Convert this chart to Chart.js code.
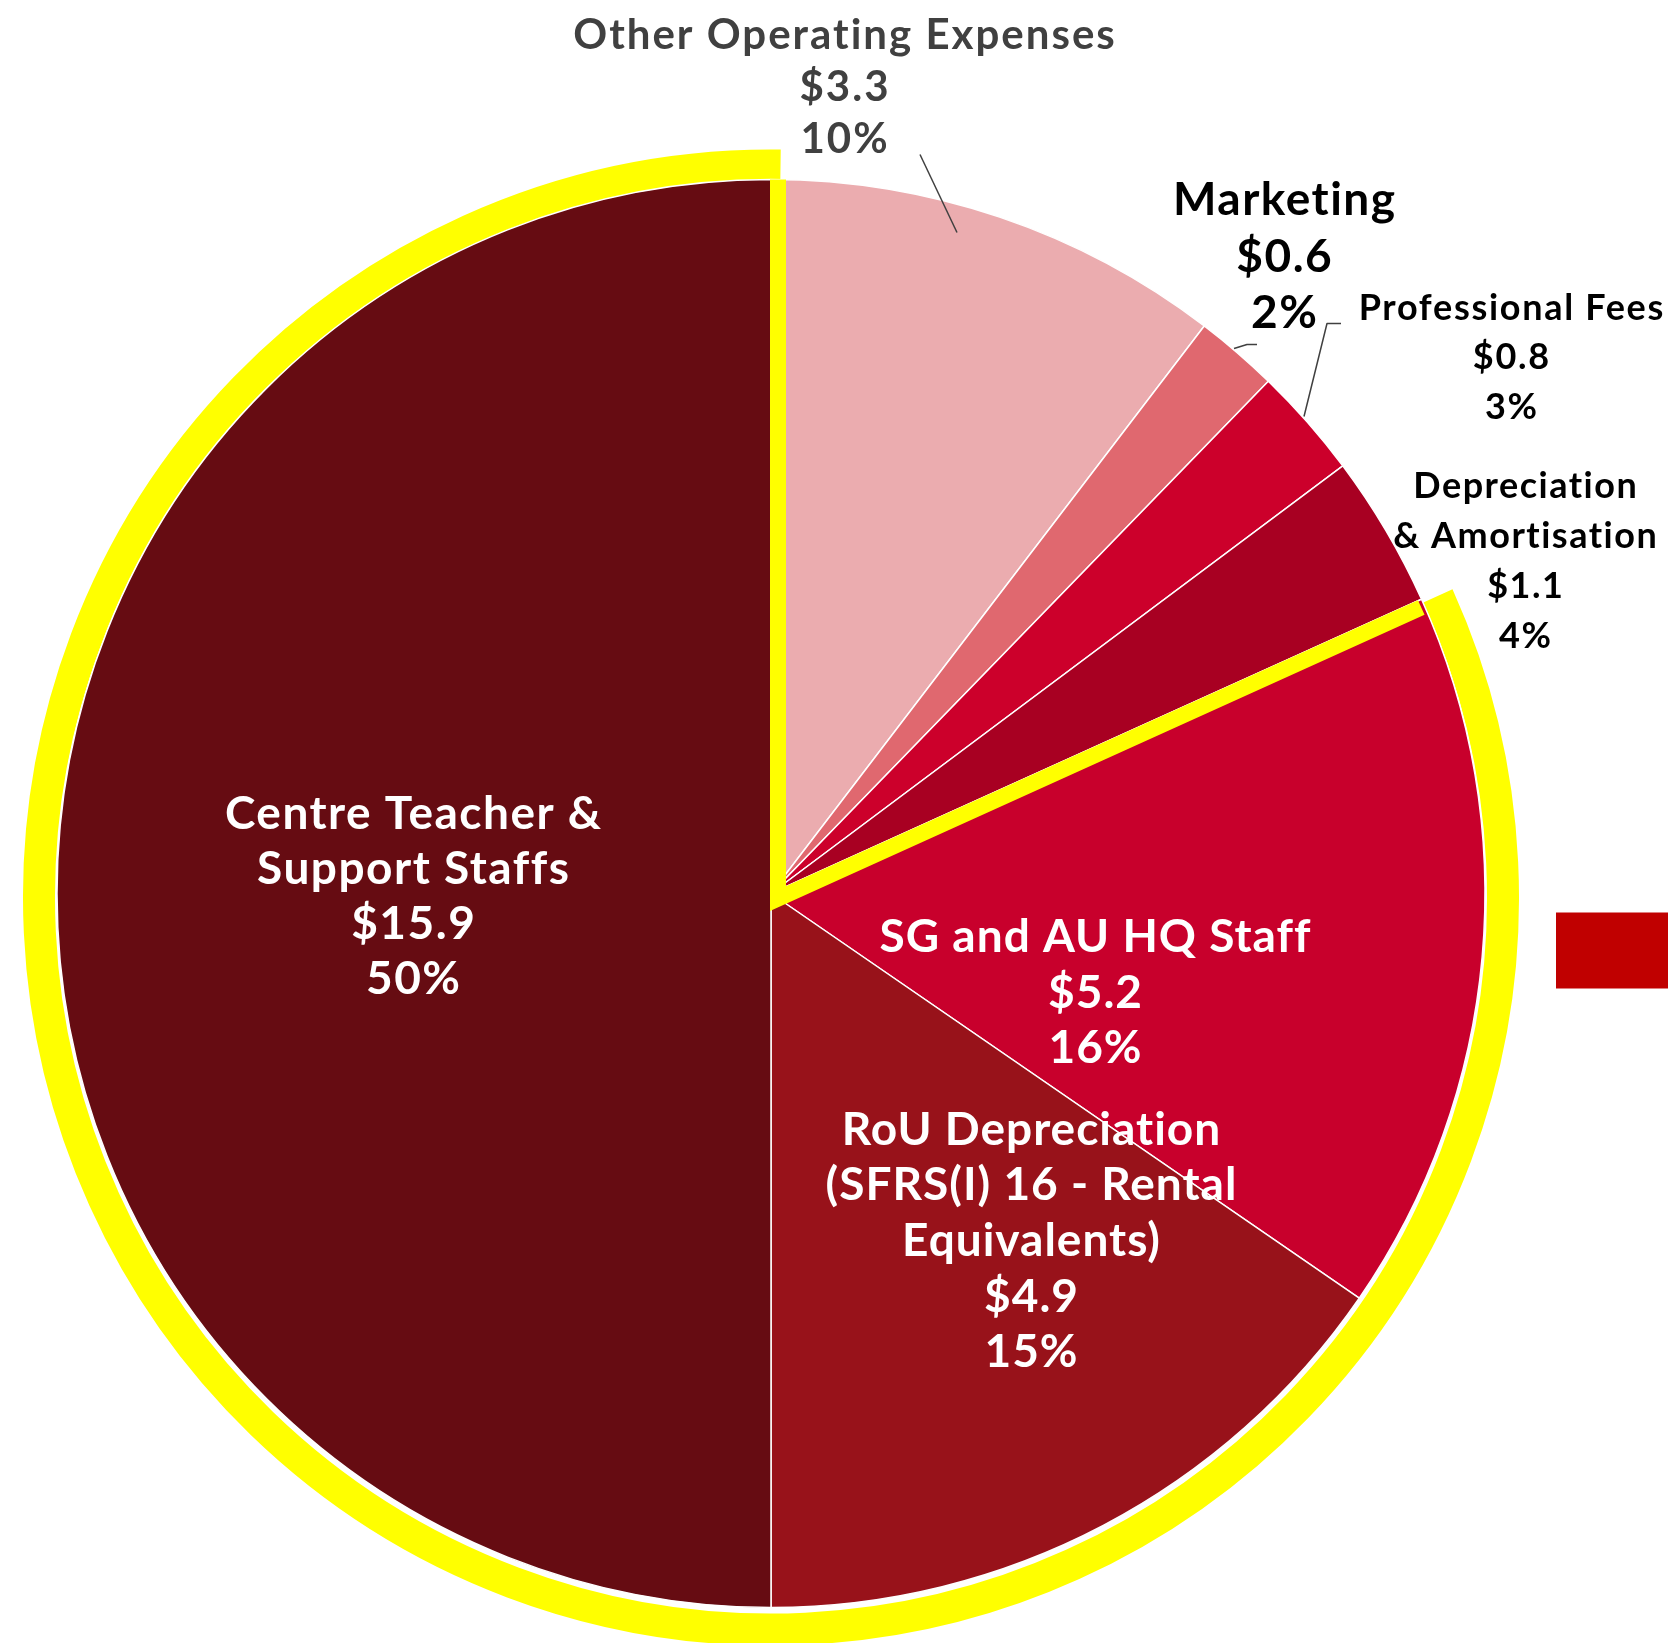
<!DOCTYPE html>
<html>
<head>
<meta charset="utf-8">
<script src="https://cdn.jsdelivr.net/npm/chart.js@4.4.1/dist/chart.umd.min.js"></script>
<style>
  html, body { margin: 0; padding: 0; background: #fff; }
  #wrap { width: 1668px; height: 1643px; }
</style>
</head>
<body>
<div id="wrap"><canvas id="costChart" width="1668" height="1643"></canvas></div>
<script>
// DATA
const categories = [
  ['Other Operating Expenses'],
  ['Marketing'],
  ['Professional Fees'],
  ['Depreciation', '& Amortisation'],
  ['SG and AU HQ Staff'],
  ['RoU Depreciation', '(SFRS(I) 16 - Rental', 'Equivalents)'],
  ['Centre Teacher &', 'Support Staffs']
];
const amounts = [3.3, 0.6, 0.8, 1.1, 5.2, 4.9, 15.9];
const pctLabels = ['10%', '2%', '3%', '4%', '16%', '15%', '50%'];
const sliceColors = ['#EBACAF', '#E0686F', '#CC002B', '#A80022', '#C8002C', '#98121A', '#660C12'];

// label placement: offset from pie centre, font size, letter spacing, line height, colour
const labelLayout = [
  { dx: 73, dy: -808, size: 42, ls: 2, lh: 52, color: '#404040' },
  { dx: 513, dy: -638, size: 46, ls: 1.5, lh: 56.5, color: '#000000' },
  { dx: 740, dy: -537, size: 36, ls: 1.7, lh: 49.5, color: '#000000' },
  { dx: 754, dy: -333, size: 36, ls: 1.5, lh: 50, color: '#000000' },
  { dx: 324, dy: 98, size: 46, ls: 1, lh: 55.5, color: '#FFFFFF' },
  { dx: 260, dy: 346, size: 46, ls: 1, lh: 55.7, color: '#FFFFFF' },
  { dx: -358, dy: 2, size: 46, ls: 1.5, lh: 55, color: '#FFFFFF' }
];

// leader lines (offsets from centre)
const leaders = [
  [[149, -739], [186, -661]],
  [[463, -545], [476, -549], [486, -549]],
  [[533, -477], [556, -570], [570, -570]]
];

const FONT = 'Lato, "DejaVu Sans", sans-serif';

var decorations = {
  id: 'decorations',
  beforeDatasetsDraw(chart) {
    // yellow ring behind staff slices
    var arcs = chart.getDatasetMeta(0).data;
    var c = arcs[0];
    var ctx = chart.ctx;
    ctx.save();
    ctx.strokeStyle = '#FFFF00';
    ctx.lineWidth = 32;
    ctx.beginPath();
    ctx.arc(c.x, c.y + 4, c.outerRadius + 18, arcs[4].startAngle, arcs[6].endAngle + 0.013);
    ctx.stroke();
    ctx.restore();
  },
  afterDatasetsDraw(chart) {
    var arcs = chart.getDatasetMeta(0).data;
    var c = arcs[0];
    var R = c.outerRadius;
    var ctx = chart.ctx;
    ctx.save();

    // yellow radial lines
    var vx = c.x + 7, vy = c.y + 5;
    var a = arcs[4].startAngle;
    ctx.strokeStyle = '#FFFF00';
    ctx.lineWidth = 16;
    ctx.lineJoin = 'miter';
    ctx.lineCap = 'butt';
    ctx.beginPath();
    ctx.moveTo(vx, c.y - R);
    ctx.lineTo(vx, vy);
    ctx.lineTo(vx + Math.cos(a) * (R - 8), vy + Math.sin(a) * (R - 8));
    ctx.stroke();

    // leader lines
    ctx.strokeStyle = '#404040';
    ctx.lineWidth = 1.5;
    ctx.lineJoin = 'round';
    leaders.forEach(pts => {
      ctx.beginPath();
      pts.forEach((p, i) => {
        if (i === 0) ctx.moveTo(c.x + p[0], c.y + p[1]);
        else ctx.lineTo(c.x + p[0], c.y + p[1]);
      });
      ctx.stroke();
    });

    // labels
    ctx.textAlign = 'center';
    ctx.textBaseline = 'alphabetic';
    categories.forEach((name, i) => {
      var L = labelLayout[i];
      var lines = name.concat(['$' + amounts[i].toFixed(1), pctLabels[i]]);
      ctx.font = 'bold ' + L.size + 'px ' + FONT;
      ctx.letterSpacing = L.ls + 'px';
      ctx.fillStyle = L.color;
      var cap = L.size * 0.7165;
      lines.forEach((t, k) => {
        var y = c.y + L.dy + (k - (lines.length - 1) / 2) * L.lh + cap / 2;
        ctx.fillText(t, c.x + L.dx + L.ls / 2, y);
      });
    });
    ctx.letterSpacing = '0px';

    // legend swatch at right edge
    ctx.fillStyle = '#C00000';
    ctx.fillRect(chart.width - 112, c.y + 19, 112, 76);

    ctx.restore();
  }
};

var config = {
  type: 'pie',
  data: {
    labels: categories,
    datasets: [{
      data: amounts,
      backgroundColor: sliceColors,
      borderColor: '#FFFFFF',
      borderWidth: 1.5,
      radius: 714
    }]
  },
  options: {
    responsive: false,
    devicePixelRatio: 1,
    animation: false,
    layout: { padding: { left: 57, right: 183, top: 179, bottom: 35 } },
    plugins: {
      legend: { display: false },
      tooltip: { enabled: false }
    }
  },
  plugins: [decorations]
};

var costChart = new Chart(document.getElementById('costChart'), config);
</script>
</body>
</html>
